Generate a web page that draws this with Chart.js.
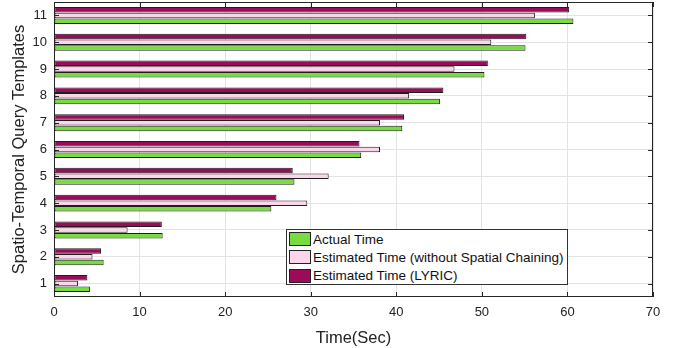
<!DOCTYPE html>
<html lang="en">
<head>
<meta charset="UTF-8">
<title>Query Template Times</title>
<script src="https://cdn.jsdelivr.net/npm/chart.js"></script>
<style>
  html, body { margin: 0; padding: 0; background: #fff; }
  #wrap { position: relative; width: 681px; height: 348px; }
  #legend {
    position: absolute; left: 286px; top: 229px; width: 280px; height: 54px;
    border: 1px solid #333; background: #fff;
    font-family: 'Liberation Sans', Arial, sans-serif; font-size: 13.5px; color: #111;
  }
  #legend .item { display: flex; align-items: center; height: 18.3px; }
  #legend .sw { width: 20px; height: 12px; border: 1px solid #222; margin: 0 2px 0 2px; }
</style>
</head>
<body>
<div id="wrap">
  <canvas id="chart" width="681" height="348"></canvas>
  <div id="legend"></div>
</div>

<script>
// categories (query templates), bottom to top
const templates = ['1', '2', '3', '4', '5', '6', '7', '8', '9', '10', '11'];
const xTicks = [0, 10, 20, 30, 40, 50, 60, 70];

// seconds
const actualTime    = [4.2, 5.8, 12.7, 25.4, 28.1, 35.9, 40.7, 45.1, 50.3, 55.1, 60.7];
const estNoChaining = [2.8, 4.5, 8.6, 29.6, 32.1, 38.1, 38.1, 41.5, 46.8, 51.1, 56.2];
const estLyric      = [3.9, 5.5, 12.6, 26.0, 27.9, 35.7, 40.9, 45.5, 50.7, 55.2, 60.2];

const seriesNames = ['Actual Time', 'Estimated Time (without Spatial Chaining)', 'Estimated Time (LYRIC)'];
const colors = ['#77dd3f', '#fbd6ea', '#9a0b5a'];

// inner tick marks + box, matlab style
const frameTicks = {
  id: 'frameTicks',
  afterDatasetsDraw(chart) {
    const { ctx, chartArea: a, scales: { x, y } } = chart;
    ctx.save();
    ctx.strokeStyle = '#262626';
    ctx.lineWidth = 1;
    ctx.beginPath();
    x.ticks.forEach(t => {
      const px = Math.round(x.getPixelForValue(t.value)) + 0.5;
      ctx.moveTo(px, a.bottom); ctx.lineTo(px, a.bottom - 5);
      ctx.moveTo(px, a.top); ctx.lineTo(px, a.top + 5);
    });
    y.ticks.forEach((t, i) => {
      const py = Math.round(y.getPixelForTick(i)) + 0.5;
      ctx.moveTo(a.left, py); ctx.lineTo(a.left + 5, py);
      ctx.moveTo(a.right, py); ctx.lineTo(a.right - 5, py);
    });
    ctx.stroke();
    ctx.strokeRect(Math.round(a.left) + 0.5, Math.round(a.top) + 0.5,
                   Math.round(a.width) - 1, Math.round(a.height) - 1);
    ctx.restore();
  }
};

const font = { family: "'Liberation Sans', Arial, sans-serif", size: 13 };
const titleFont = { family: "'Liberation Sans', Arial, sans-serif", size: 16.5 };

// LYRIC first so it sits on top of each group, green at the bottom
const order = [2, 1, 0];
const allData = [actualTime, estNoChaining, estLyric];

new Chart(document.getElementById('chart'), {
  type: 'bar',
  data: {
    labels: templates,
    datasets: order.map(i => ({
      label: seriesNames[i],
      data: allData[i],
      backgroundColor: colors[i],
      borderColor: '#1e1e1e',
      borderWidth: 1,
      borderSkipped: false,
      categoryPercentage: 0.64,
      barPercentage: 0.96
    }))
  },
  options: {
    indexAxis: 'y',
    responsive: false,
    animation: false,
    layout: { padding: { top: 2, right: 28, left: 0, bottom: 0 } },
    plugins: { legend: { display: false }, tooltip: { enabled: false } },
    scales: {
      x: {
        min: 0, max: 70,
        afterBuildTicks: s => { s.ticks = xTicks.map(v => ({ value: v })); },
        grid: { color: '#e3e3e3', drawTicks: false },
        border: { display: false },
        ticks: { color: '#222', font, padding: 8 },
        title: { display: true, text: 'Time(Sec)', color: '#222', font: titleFont, padding: { top: 0, bottom: 0 } },
        afterFit: s => { s.height = 51; s.paddingLeft = 0; s.paddingRight = 0; }
      },
      y: {
        reverse: true,
        grid: { color: '#e3e3e3', drawTicks: false, offset: false },
        border: { display: false },
        ticks: { color: '#222', font, padding: 7 },
        title: { display: true, text: 'Spatio-Temporal Query Templates', color: '#222', font: titleFont, padding: { top: 10, bottom: 0 } },
        afterFit: s => { s.width = 54; s.paddingTop = 0; s.paddingBottom = 0; }
      }
    }
  },
  plugins: [frameTicks]
});

// legend in the order of the series
const leg = document.getElementById('legend');
seriesNames.forEach((name, i) => {
  const row = document.createElement('div');
  row.className = 'item';
  row.innerHTML = '<span class="sw" style="background:' + colors[i] + '"></span><span></span>';
  row.lastChild.textContent = name;
  leg.appendChild(row);
});
</script>
</body>
</html>
